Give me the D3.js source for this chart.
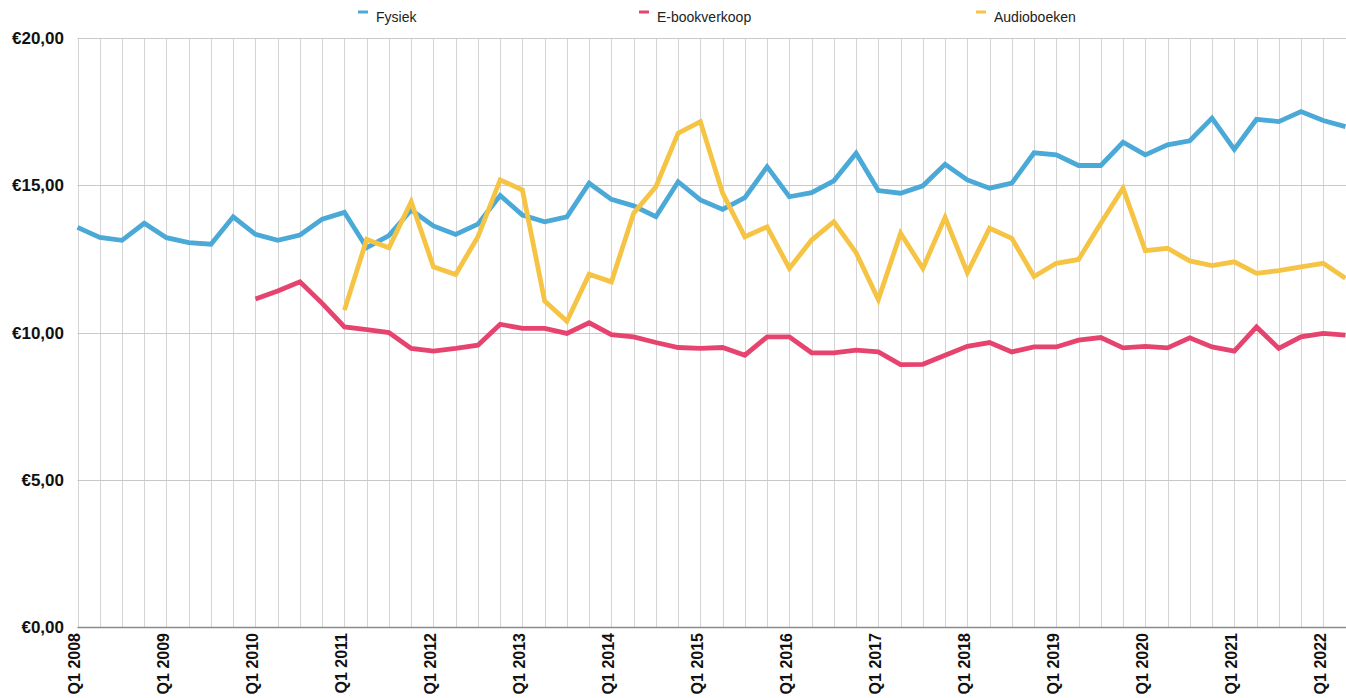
<!DOCTYPE html>
<html><head>
<meta charset="utf-8">
<title>Prijs per boek</title>
<style>
  body, html {
    margin: 0;
    padding: 0;
    background-color: #fff;
    font-family: 'Liberation Sans', Arial, sans-serif;
  }
  .grid line { stroke: #d4d4d4; stroke-width: 1; }
  .ylab { font-size: 17px; font-weight: bold; fill: #111; }
  .xlab { font-size: 16px; font-weight: bold; fill: #111; }
  .legend text { font-size: 14px; fill: #222; }
  .series { fill: none; stroke-width: 4.8; stroke-linejoin: miter; stroke-linecap: butt; }
</style>
<script src="https://cdn.jsdelivr.net/npm/d3@7"></script>
</head>
<body>
<svg id="chart" width="1346" height="698"></svg>
<script>
const quarters = [
  "Q1 2008","Q2 2008","Q3 2008","Q4 2008","Q1 2009","Q2 2009","Q3 2009","Q4 2009",
  "Q1 2010","Q2 2010","Q3 2010","Q4 2010","Q1 2011","Q2 2011","Q3 2011","Q4 2011",
  "Q1 2012","Q2 2012","Q3 2012","Q4 2012","Q1 2013","Q2 2013","Q3 2013","Q4 2013",
  "Q1 2014","Q2 2014","Q3 2014","Q4 2014","Q1 2015","Q2 2015","Q3 2015","Q4 2015",
  "Q1 2016","Q2 2016","Q3 2016","Q4 2016","Q1 2017","Q2 2017","Q3 2017","Q4 2017",
  "Q1 2018","Q2 2018","Q3 2018","Q4 2018","Q1 2019","Q2 2019","Q3 2019","Q4 2019",
  "Q1 2020","Q2 2020","Q3 2020","Q4 2020","Q1 2021","Q2 2021","Q3 2021","Q4 2021",
  "Q1 2022","Q2 2022"
];

const fysiek = [
  13.57, 13.23, 13.13, 13.71, 13.22, 13.05, 13.00, 13.93,
  13.33, 13.13, 13.31, 13.85, 14.08, 12.88, 13.29, 14.16,
  13.62, 13.33, 13.68, 14.65, 13.99, 13.76, 13.93, 15.07,
  14.52, 14.30, 13.93, 15.12, 14.50, 14.18, 14.58, 15.63,
  14.61, 14.75, 15.15, 16.09, 14.82, 14.73, 14.98, 15.71,
  15.18, 14.90, 15.07, 16.10, 16.03, 15.67, 15.67, 16.46,
  16.03, 16.37, 16.51, 17.28, 16.22, 17.24, 17.16, 17.50,
  17.20, 16.99
];

const ebook = [
  null, null, null, null, null, null, null, null,
  11.14, 11.41, 11.72, 10.99, 10.19, 10.10, 10.00, 9.46,
  9.37, 9.46, 9.57, 10.28, 10.14, 10.14, 9.97, 10.33,
  9.93, 9.85, 9.66, 9.49, 9.46, 9.49, 9.23, 9.85,
  9.85, 9.31, 9.31, 9.40, 9.34, 8.91, 8.92, 9.23,
  9.53, 9.66, 9.34, 9.51, 9.51, 9.74, 9.83, 9.48,
  9.53, 9.48, 9.82, 9.51, 9.37, 10.19, 9.46, 9.85,
  9.97, 9.91
];

const audio = [
  null, null, null, null, null, null, null, null,
  null, null, null, null, 10.76, 13.16, 12.88, 14.44,
  12.23, 11.97, 13.25, 15.18, 14.84, 11.07, 10.38, 11.98,
  11.72, 14.05, 14.95, 16.77, 17.16, 14.73, 13.25, 13.59,
  12.18, 13.14, 13.76, 12.71, 11.12, 13.37, 12.18, 13.91,
  12.03, 13.54, 13.20, 11.90, 12.35, 12.48, 13.71, 14.90,
  12.78, 12.86, 12.43, 12.27, 12.40, 12.01, 12.10, 12.23,
  12.35, 11.84
];

const yTicks = [0, 5, 10, 15, 20];
const yTickLabels = ["€0,00", "€5,00", "€10,00", "€15,00", "€20,00"];

const seriesNames = ["Fysiek", "E-bookverkoop", "Audioboeken"];
const seriesColors = ["#4aa9d6", "#e6446e", "#f6c444"];
const seriesValues = [fysiek, ebook, audio];

const svg = d3.select("#chart");

const x = d3.scalePoint()
  .domain(quarters)
  .range([77.5, 1345.5]);

const y = d3.scaleLinear()
  .domain([0, 20])
  .range([627, 38]);

// vertical grid, one per quarter
const grid = svg.append("g").attr("class", "grid");
grid.selectAll("line.v")
  .data(quarters)
  .enter()
  .append("line")
  .attr("class", "v")
  .attr("x1", d => Math.round(x(d)) + 0.5)
  .attr("x2", d => Math.round(x(d)) + 0.5)
  .attr("y1", y(20))
  .attr("y2", y(0));

// horizontal grid
grid.selectAll("line.h")
  .data(yTicks)
  .enter()
  .append("line")
  .attr("class", "h")
  .attr("x1", 77.5)
  .attr("x2", 1346)
  .attr("y1", d => Math.round(y(d)) + 0.5)
  .attr("y2", d => Math.round(y(d)) + 0.5)
  .style("stroke", d => d === 0 ? "#8a8a8a" : "#c9c9c9")
  .style("stroke-width", d => d === 0 ? 1.5 : 1);

// y labels
svg.append("g")
  .selectAll("text")
  .data(yTicks)
  .enter()
  .append("text")
  .attr("class", "ylab")
  .attr("x", 64)
  .attr("y", d => y(d))
  .attr("dy", "0.36em")
  .attr("text-anchor", "end")
  .text((d, i) => yTickLabels[i]);

// x labels, only Q1 of each year
svg.append("g")
  .selectAll("text")
  .data(quarters.filter(q => q.startsWith("Q1")))
  .enter()
  .append("text")
  .attr("class", "xlab")
  .attr("text-anchor", "end")
  .attr("transform", d => `translate(${x(d) + 2.5},633) rotate(-90)`)
  .text(d => d);

// lines
const line = d3.line()
  .defined(d => d[1] != null)
  .x(d => x(d[0]))
  .y(d => y(d[1]));

seriesValues.forEach((vals, i) => {
  svg.append("path")
    .datum(quarters.map((q, j) => [q, vals[j]]))
    .attr("class", "series")
    .attr("stroke", seriesColors[i])
    .attr("d", line);
});

// legend
const legendX = [358, 639, 976];
const legend = svg.append("g").attr("class", "legend");
seriesNames.forEach((name, i) => {
  legend.append("rect")
    .attr("x", legendX[i])
    .attr("y", 10.5)
    .attr("width", 10)
    .attr("height", 3)
    .attr("fill", seriesColors[i]);
  legend.append("text")
    .attr("x", legendX[i] + 18)
    .attr("y", 17)
    .attr("dy", "0.35em")
    .text(name);
});
</script>
</body></html>
